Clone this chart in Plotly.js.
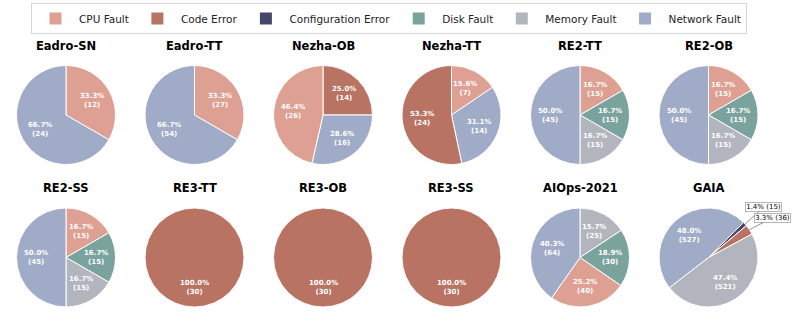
<!DOCTYPE html>
<html>
<head>
<meta charset="utf-8">
<script src="https://cdn.plot.ly/plotly-3.0.1.min.js"></script>
<style>
  html, body { margin: 0; padding: 0; background: #fff; }
  #chart { width: 793px; height: 324px; }
</style>
</head>
<body>
<div id="chart"></div>
<script>
// ---------- DATA ----------
const legendOrder = ['CPU Fault', 'Code Error', 'Configuration Error', 'Disk Fault', 'Memory Fault', 'Network Fault'];

const titles = ['Eadro-SN', 'Eadro-TT', 'Nezha-OB', 'Nezha-TT', 'RE2-TT', 'RE2-OB',
                'RE2-SS', 'RE3-TT', 'RE3-OB', 'RE3-SS', 'AIOps-2021', 'GAIA'];

// slice labels / values, listed clockwise from the start angle
const eadroSNLabels = ['CPU Fault', 'Network Fault'];
const eadroSNValues = [12, 24];
const eadroTTLabels = ['CPU Fault', 'Network Fault'];
const eadroTTValues = [27, 54];
const nezhaOBLabels = ['Code Error', 'Network Fault', 'CPU Fault'];
const nezhaOBValues = [14, 16, 26];
const nezhaTTLabels = ['CPU Fault', 'Network Fault', 'Code Error'];
const nezhaTTValues = [7, 14, 24];
const re2Labels = ['CPU Fault', 'Disk Fault', 'Memory Fault', 'Network Fault'];
const re2TTValues = [15, 15, 15, 45];
const re2OBValues = [15, 15, 15, 45];
const re2SSValues = [15, 15, 15, 45];
const re3Labels = ['Code Error'];
const re3TTValues = [30];
const re3OBValues = [30];
const re3SSValues = [30];
const aiopsLabels = ['Memory Fault', 'Disk Fault', 'CPU Fault', 'Network Fault'];
const aiopsValues = [25, 30, 40, 64];
const gaiaLabels = ['Configuration Error', 'Code Error', 'Memory Fault', 'Network Fault'];
const gaiaValues = [15, 36, 521, 527];

// ---------- STYLE ----------
const colorMap = {
  'CPU Fault': '#dea093',
  'Code Error': '#b87363',
  'Configuration Error': '#45466a',
  'Disk Fault': '#7ba39e',
  'Memory Fault': '#b3b5be',
  'Network Fault': '#a0abc7'
};

const pieLabels = [eadroSNLabels, eadroTTLabels, nezhaOBLabels, nezhaTTLabels, re2Labels, re2Labels,
                   re2Labels, re3Labels, re3Labels, re3Labels, aiopsLabels, gaiaLabels];
const pieValues = [eadroSNValues, eadroTTValues, nezhaOBValues, nezhaTTValues, re2TTValues, re2OBValues,
                   re2SSValues, re3TTValues, re3OBValues, re3SSValues, aiopsValues, gaiaValues];
const rotations = [0, 0, 0, 0, 0, 0, 0, 0, 0, 0, 0, 45];

const W = 793, H = 324;
const colX = [66, 194.5, 323, 451.5, 580, 708.5];
const rowY = [115, 257.5];
const titleY = [45.5, 187.5];
const R = 49.5;
const calloutOffsets = { 'Code Error': [23, -12], 'Configuration Error': [19, -17] };

const px2x = p => p / W;
const px2y = p => 1 - p / H;

const traces = [];
const annotations = [];

// helper legend trace (fixes legend order)
traces.push({
  type: 'pie',
  labels: legendOrder,
  values: legendOrder.map(() => 1),
  marker: { colors: legendOrder.map(l => colorMap[l]) },
  domain: { x: [0, 0.0005], y: [0, 0.0005] },
  textinfo: 'none',
  hoverinfo: 'skip',
  sort: false
});

titles.forEach((t, i) => {
  const col = i % 6, row = Math.floor(i / 6);
  const cx = colX[col], cy = rowY[row];
  const labels = pieLabels[i], values = pieValues[i];
  const total = values.reduce((a, b) => a + b, 0);

  traces.push({
    type: 'pie',
    name: t,
    labels: labels,
    values: values,
    sort: false,
    direction: 'clockwise',
    rotation: rotations[i],
    marker: { colors: labels.map(l => colorMap[l]), line: { color: '#ffffff', width: 1 } },
    textinfo: 'none',
    hoverinfo: 'label+value+percent',
    domain: { x: [px2x(cx - R), px2x(cx + R)], y: [px2y(cy + R), px2y(cy - R)] }
  });

  annotations.push({
    text: '<b>' + t + '</b>',
    x: px2x(cx), y: px2y(titleY[row]), xref: 'paper', yref: 'paper',
    xanchor: 'center', yanchor: 'middle', showarrow: false,
    font: { family: 'DejaVu Sans', size: 11.5, color: '#000' }
  });

  let cum = 0;
  values.forEach((v, k) => {
    const frac = v / total;
    const mid = (rotations[i] + (cum + v / 2) / total * 360) * Math.PI / 180;
    cum += v;
    const pct = (frac * 100).toFixed(1) + '%';
    if (frac * 100 < 5) {
      const off = calloutOffsets[labels[k]] || [20, -15];
      annotations.push({
        text: pct + ' (' + v + ')',
        x: px2x(cx + R * Math.sin(mid)), y: px2y(cy - R * Math.cos(mid)),
        xref: 'paper', yref: 'paper',
        ax: off[0], ay: off[1],
        showarrow: true, arrowhead: 0, arrowwidth: 0.7, arrowcolor: '#666',
        bgcolor: '#fff', bordercolor: '#999', borderwidth: 0.7, borderpad: 0.5,
        font: { family: 'DejaVu Sans', size: 7, color: '#000' }
      });
    } else {
      annotations.push({
        text: '<b>' + pct + '<br>(' + v + ')</b>',
        x: px2x(cx + 0.6 * R * Math.sin(mid)), y: px2y(cy - 0.6 * R * Math.cos(mid)),
        xref: 'paper', yref: 'paper', xanchor: 'center', yanchor: 'middle',
        showarrow: false,
        font: { family: 'DejaVu Sans', size: 7, color: '#fff' }
      });
    }
  });
});

const layout = {
  width: W, height: H,
  margin: { l: 0, r: 0, t: 0, b: 0 },
  paper_bgcolor: '#fff',
  showlegend: true,
  legend: {
    orientation: 'h',
    x: 389 / W, xanchor: 'center',
    y: px2y(3), yanchor: 'top',
    bordercolor: '#d6d6d6', borderwidth: 1, bgcolor: '#fff',
    itemwidth: 37,
    font: { family: 'DejaVu Sans', size: 10.5, color: '#222' }
  },
  annotations: annotations
};

Plotly.newPlot('chart', traces, layout, { staticPlot: true, displayModeBar: false });
</script>
</body>
</html>
